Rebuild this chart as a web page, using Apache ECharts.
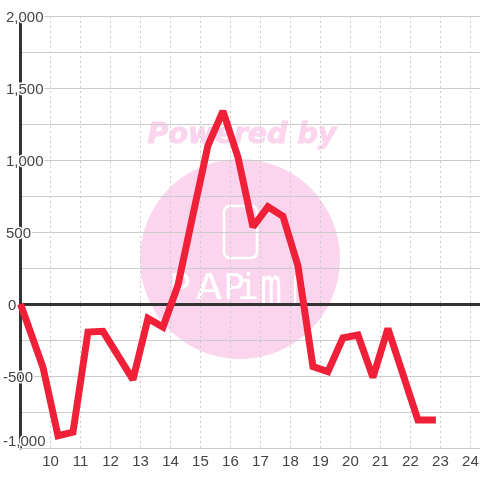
<!DOCTYPE html>
<html><head><meta charset="utf-8">
<style>html,body{margin:0;padding:0;background:#fff}#c{width:480px;height:480px}</style>
<script src="https://cdn.jsdelivr.net/npm/echarts@6/dist/echarts.min.js"></script>
</head><body><div id="c"></div>
<script>
const hours = [9,9.75,10.25,10.75,11.25,11.75,12.75,13.25,13.75,14.25,14.75,15.25,15.75,16.25,16.75,17.25,17.75,18.25,18.75,19.25,19.75,20.25,20.75,21.25,22.25,22.85];
const values = [0,-440,-915,-890,-195,-190,-525,-100,-160,130,620,1100,1340,1020,535,675,610,265,-435,-470,-235,-215,-510,-170,-805,-805];
const watermarkTitle = "Powered by";
const watermarkLogo = ["P","A","P","i","m","n"];
const pink = "#fbd5ee";
const chart = echarts.init(document.getElementById('c'), null, {renderer:'canvas'});
const logoX = [180,209,234,248,271,299];
const logoSX = [1,1.25,1,1,1,0.7];
const logoSY = [1,1,1,1,1.4,1.4];
const labelStyle = {color:'#444',fontFamily:'Liberation Sans',fontSize:15,textBorderColor:'#fff',textBorderWidth:3};
chart.setOption({
  animation:false,
  backgroundColor:'#fff',
  grid:{left:20.5,right:0,top:16,bottom:32,outerBoundsMode:'none'},
  graphic:[
    {type:'circle',z:-5,silent:true,shape:{cx:240,cy:259,r:100},style:{fill:pink}},
    {type:'text',z:-5,silent:true,x:242,y:136,style:{text:watermarkTitle,font:'italic bold 28.5px "DejaVu Sans"',fill:pink,stroke:pink,lineWidth:1,align:'center',verticalAlign:'middle'}},
    {type:'rect',z:-4,silent:true,shape:{x:224,y:206,width:33,height:52,r:6},style:{fill:'none',stroke:'#fff',lineWidth:2.5}},
    ...watermarkLogo.map((t,i)=>({type:'text',z:-4,silent:true,x:logoX[i],y:290,scaleX:logoSX[i],scaleY:logoSY[i],style:{text:t,font:'36px "DejaVu Sans Mono"',fill:'#fff',align:'center',verticalAlign:'middle'}}))
  ],
  xAxis:{type:'value',min:9,max:24.32,interval:1,position:'bottom',
    axisLine:{onZero:false,show:true,lineStyle:{color:'#ccc',width:1}},
    axisTick:{show:false},
    axisLabel:{color:'#444',fontFamily:'Liberation Sans',fontSize:15,margin:6,showMinLabel:false,showMaxLabel:false,
      hideOverlap:false},
    splitLine:{show:true,lineStyle:{color:'#ccc',type:[2,3],width:1}}},
  yAxis:{type:'value',min:-1000,max:2000,interval:250,
    axisLine:{show:true,lineStyle:{color:'#333',width:3}},
    axisTick:{show:false},
    axisLabel:{inside:true,align:'left',margin:-17.5,...labelStyle,
      rich:{
        p:{...labelStyle,padding:[4,0,0,3]},
        z:{...labelStyle,padding:[4,0,0,5]},
        n:{...labelStyle,padding:[4,0,0,0]},
        m:{...labelStyle,padding:[0,0,13,0]}
      },
      formatter:v=>{
        if(v%500!==0) return '';
        const s=v.toLocaleString('en-US');
        const k= v===-1000?'m': v<0?'n': v===0?'z':'p';
        return '{'+k+'|'+s+'}';
      }},
    splitLine:{show:true,lineStyle:{color:'#ccc',width:1}}},
  series:[{type:'line',data:hours.map((h,i)=>[h,values[i]]),symbol:'none',smooth:false,
    lineStyle:{color:'#f02038',width:7,cap:'butt',join:'miter',miterLimit:2},
    markLine:{silent:true,symbol:'none',label:{show:false},lineStyle:{color:'#333',width:3,type:'solid'},z:1,data:[{yAxis:0}]}}]
});
</script></body></html>
